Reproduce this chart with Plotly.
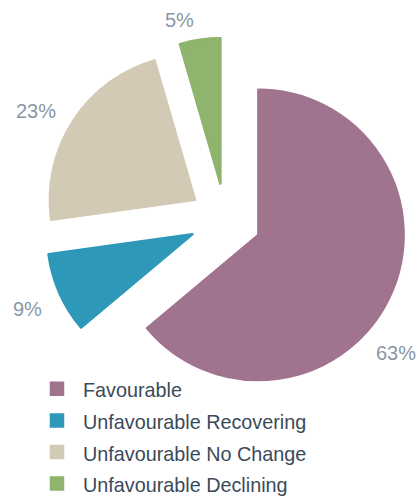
import math
import plotly.graph_objects as go

categories = ["Favourable", "Unfavourable Recovering", "Unfavourable No Change", "Unfavourable Declining"]
values = [63.9, 8.9, 22.7, 4.5]          # slice sizes as drawn
pct_labels = ["63%", "9%", "23%", "5%"]  # labels as printed on the chart
colors = ["#A0738F", "#2E98B9", "#D3CAB5", "#8FB46D"]

# styling / layout
W, H = 420, 499
PULL = 0.25
CX, CY, S = 225.5, 219.5, 363           # pie centre and domain size in pixels
label_angle_shift = [15.6, -0.3, -3.9, -6.0]   # degrees, where each % label sits
label_dist = [1.252, 1.248, 1.256, 1.161]      # in radii, from the pulled slice tip
FONT = "Liberation Sans, Arial, sans-serif"

fig = go.Figure(go.Pie(
    labels=[f"<span style='font-size:19.8px'>{c}</span>" for c in categories],
    values=values,
    sort=False,
    direction="clockwise",
    rotation=0,
    pull=[PULL] * len(values),
    marker=dict(colors=colors, line=dict(width=2.5, color=colors)),
    textinfo="none",
    domain=dict(x=[(CX - S / 2) / W, (CX + S / 2) / W],
                y=[1 - (CY + S / 2) / H, 1 - (CY - S / 2) / H]),
    hovertemplate="%{label}<extra></extra>",
))

# percentage labels placed around the slices (geometry derived from the values)
r = S / (2 * (1 + PULL))
total = sum(values)
cum = 0
for v, txt, dshift, k in zip(values, pct_labels, label_angle_shift, label_dist):
    a0 = cum / total * 360
    cum += v
    a1 = cum / total * 360
    mid = math.radians((a0 + a1) / 2)
    ax = CX + PULL * r * math.sin(mid)
    ay = CY - PULL * r * math.cos(mid)
    phi = mid + math.radians(dshift)
    lx = ax + k * r * math.sin(phi)
    ly = ay - k * r * math.cos(phi)
    fig.add_annotation(
        x=lx / W, y=1 - ly / H, xref="paper", yref="paper",
        text=txt, showarrow=False, xanchor="center", yanchor="middle",
        font=dict(family=FONT, size=20, color="#8A97A4"),
    )

fig.update_layout(
    width=W, height=H,
    margin=dict(l=0, r=0, t=0, b=0, autoexpand=False),
    paper_bgcolor="white",
    plot_bgcolor="white",
    showlegend=True,
    legend=dict(
        x=31 / W, xanchor="left",
        y=-6 / H, yanchor="bottom",
        itemwidth=42,
        font=dict(family=FONT, size=22, color="#3B4A59"),
        bgcolor="rgba(0,0,0,0)",
        traceorder="normal",
    ),
)

fig.write_html("out.html", config={"displayModeBar": False},
               post_script="document.body.style.margin='0';")
